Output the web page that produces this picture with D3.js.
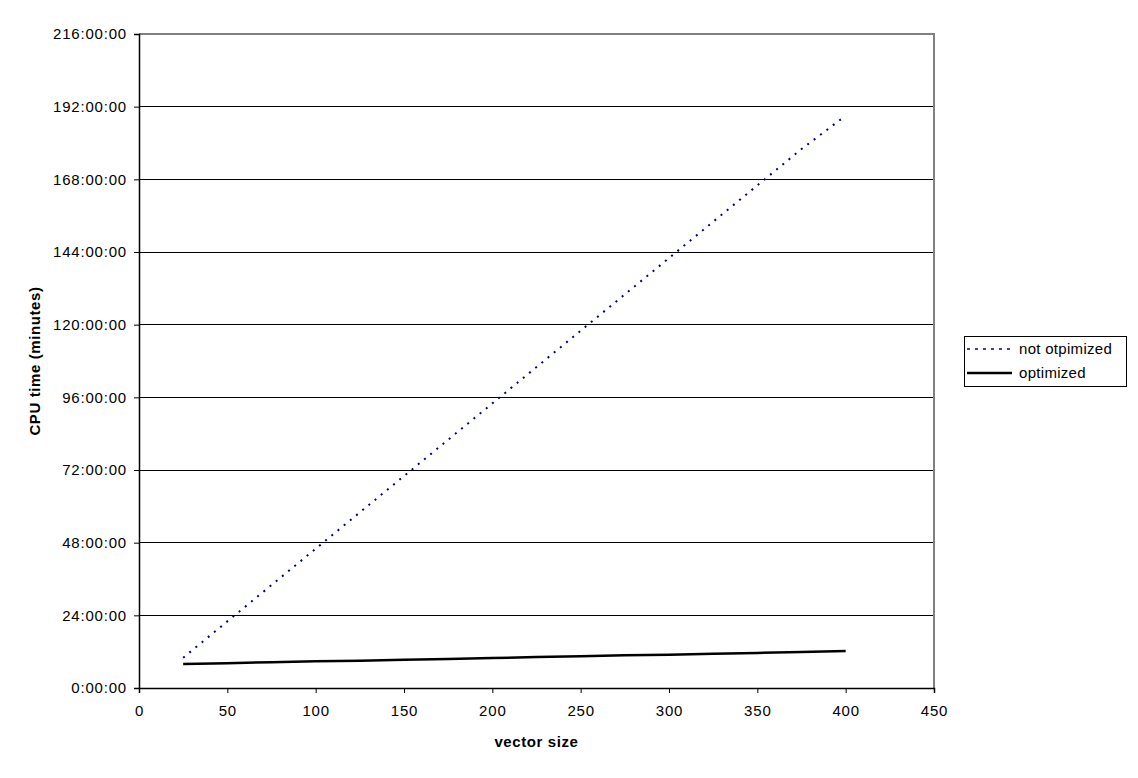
<!DOCTYPE html>
<html>
<head>
<meta charset="utf-8">
<script src="https://cdn.jsdelivr.net/npm/d3@7"></script>
<style>
  html, body { margin: 0; padding: 0; background: #fff; }
  svg { display: block; font-family: "Liberation Sans", Arial, sans-serif; }
</style>
</head>
<body>
<svg id="chart" width="1138" height="778"></svg>
<script>
const vectorSize = [25, 50, 75, 100, 125, 150, 175, 200, 225, 250, 275, 300, 325, 350, 375, 400];
const notOptimizedHours = [10, 22, 34, 46, 58, 70, 82, 94, 106, 118, 130, 142, 154, 166, 178, 189];
const optimizedHours = [7.9, 8.2, 8.5, 8.8, 9.0, 9.3, 9.6, 9.9, 10.2, 10.5, 10.8, 11.0, 11.3, 11.6, 11.9, 12.2];
const xTicks = [0, 50, 100, 150, 200, 250, 300, 350, 400, 450];
const yTicks = [0, 24, 48, 72, 96, 120, 144, 168, 192, 216];
const seriesNames = ["not otpimized", "optimized"];

const svg = d3.select("#chart");
const plot = { left: 139, top: 34, right: 934, bottom: 688 };

const x = d3.scaleLinear().domain([0, 450]).range([plot.left, plot.right]);
const y = d3.scaleLinear().domain([0, 216]).range([plot.bottom, plot.top]);

const fmt = h => `${h}:00:00`;

// gridlines
svg.append("g").selectAll("line").data(yTicks.filter(t => t > 0 && t < 216)).join("line")
  .attr("x1", plot.left).attr("x2", plot.right)
  .attr("y1", d => y(d)).attr("y2", d => y(d))
  .attr("stroke", "#000").attr("stroke-width", 1).attr("shape-rendering", "crispEdges");

// plot border top/right (gray)
svg.append("path")
  .attr("d", `M${plot.left},${plot.top}H${plot.right}V${plot.bottom}`)
  .attr("fill", "none").attr("stroke", "#808080").attr("stroke-width", 2)
  .attr("shape-rendering", "crispEdges");

// y axis
const yAxis = svg.append("g").attr("transform", `translate(${plot.left},0)`)
  .call(d3.axisLeft(y).tickValues(yTicks).tickFormat(fmt).tickSize(5).tickPadding(7));
// x axis
const xAxis = svg.append("g").attr("transform", `translate(0,${plot.bottom})`)
  .call(d3.axisBottom(x).tickValues(xTicks).tickFormat(d3.format("d")).tickSize(5).tickPadding(12));

[yAxis, xAxis].forEach(a => {
  a.select(".domain").attr("stroke", "#000").attr("stroke-width", 1.5);
  a.selectAll(".tick line").attr("stroke", "#000");
  a.selectAll("text").attr("font-size", 15).attr("fill", "#000")
    .attr("font-family", "'Liberation Sans', Arial, sans-serif")
    .style("letter-spacing", "0.8px");
});

// lines
const line = (vals) => d3.line().x((d, i) => x(vectorSize[i])).y(d => y(d))(vals);

svg.append("path").attr("d", line(optimizedHours))
  .attr("fill", "none").attr("stroke", "#000").attr("stroke-width", 2.5);

svg.append("path").attr("d", line(notOptimizedHours))
  .attr("fill", "none").attr("stroke", "#000080").attr("stroke-width", 2)
  .attr("stroke-dasharray", "2,6");

// axis titles
svg.append("text").attr("x", (plot.left + plot.right) / 2).attr("y", 747)
  .attr("text-anchor", "middle").attr("font-size", 15).attr("font-weight", "bold")
  .style("letter-spacing", "0.6px").text("vector size");

svg.append("text").attr("transform", `translate(40,${(plot.top + plot.bottom) / 2}) rotate(-90)`)
  .attr("text-anchor", "middle").attr("font-size", 15).attr("font-weight", "bold")
  .style("letter-spacing", "0.6px").text("CPU time (minutes)");

// legend
const lg = svg.append("g");
lg.append("rect").attr("x", 964.5).attr("y", 336.5).attr("width", 162).attr("height", 50)
  .attr("fill", "#fff").attr("stroke", "#000").attr("stroke-width", 1);
const legendStyles = [
  { stroke: "#000080", width: 1.5, dash: "3,5" },
  { stroke: "#000", width: 2.5, dash: null }
];
seriesNames.forEach((name, i) => {
  const ly = 349 + i * 24;
  lg.append("line").attr("x1", 967).attr("x2", 1012).attr("y1", ly).attr("y2", ly)
    .attr("stroke", legendStyles[i].stroke).attr("stroke-width", legendStyles[i].width)
    .attr("stroke-dasharray", legendStyles[i].dash);
  lg.append("text").attr("x", 1019).attr("y", ly + 5).attr("font-size", 15)
    .style("letter-spacing", "0.3px").text(name);
});
</script>
</body>
</html>
